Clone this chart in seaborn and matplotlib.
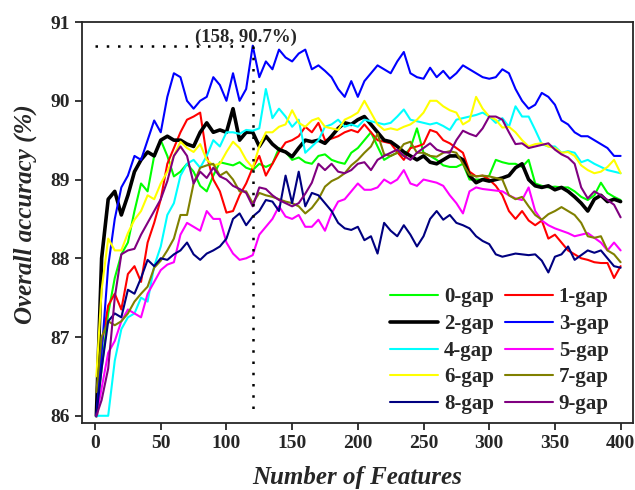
import pandas as pd
import matplotlib
matplotlib.use("Agg")
import matplotlib.pyplot as plt
import seaborn as sns

# feature counts (sampled every 5 features)
features = [1] + list(range(5, 401, 5))

gap0 = [86.0, 86.6, 87.3, 87.75, 88.05, 88.2, 88.6, 88.95, 88.85, 89.3,
        89.5, 89.3, 89.04, 89.1, 89.2, 89.1, 88.92, 88.85, 89.05, 89.22,
        89.2, 89.18, 89.22, 89.15, 89.12, 89.2, 89.16, 89.2, 89.4, 89.35,
        89.25, 89.28, 89.22, 89.2, 89.3, 89.32, 89.25, 89.22, 89.2, 89.34,
        89.4, 89.5, 89.6, 89.42, 89.25, 89.3, 89.34, 89.3, 89.4, 89.65,
        89.34, 89.3, 89.25, 89.18, 89.16, 89.16, 89.2, 89.0, 89.0, 89.0,
        89.05, 89.25, 89.22, 89.2, 89.2, 89.16, 89.25, 88.95, 88.92, 88.9,
        88.91, 88.9, 88.9, 88.85, 88.78, 88.74, 88.8, 88.96, 88.83, 88.78,
        88.74]
gap1 = [86.0, 86.9, 87.4, 87.55, 87.35, 87.8, 87.9, 87.7, 88.2, 88.45,
        88.75, 89.2, 89.4, 89.6, 89.76, 89.8, 89.85, 89.3, 89.0, 88.85,
        88.58, 88.6, 88.8, 88.95, 89.15, 89.3, 89.05, 89.2, 89.35, 89.47,
        89.5, 89.55, 89.67, 89.6, 89.72, 89.5, 89.52, 89.55, 89.6, 89.63,
        89.6, 89.7, 89.6, 89.5, 89.48, 89.46, 89.35, 89.25, 89.4, 89.42,
        89.45, 89.63, 89.6, 89.5, 89.46, 89.4, 89.34, 89.1, 89.04, 89.05,
        89.0, 88.92, 88.8, 88.6, 88.5, 88.6, 88.48, 88.42, 88.48, 88.25,
        88.3, 88.2, 88.1, 88.05, 88.0, 87.98, 87.95, 87.94, 87.94, 87.75,
        87.9]
gap2 = [86.0, 88.0, 88.75, 88.85, 88.55, 88.8, 89.1, 89.25, 89.35, 89.3,
        89.5, 89.55, 89.5, 89.5, 89.45, 89.42, 89.6, 89.72, 89.6, 89.63,
        89.6, 89.9, 89.5, 89.6, 89.6, 89.42, 89.55, 89.45, 89.38, 89.35,
        89.29, 89.4, 89.5, 89.48, 89.5, 89.46, 89.55, 89.65, 89.72, 89.7,
        89.76, 89.8, 89.7, 89.6, 89.5, 89.48, 89.42, 89.35, 89.3, 89.25,
        89.3, 89.22, 89.2, 89.25, 89.3, 89.3, 89.25, 89.05, 88.96, 89.0,
        88.98, 89.0, 89.02, 89.05, 89.15, 89.2, 89.0, 88.92, 88.9, 88.92,
        88.87, 88.9, 88.85, 88.78, 88.7, 88.6, 88.75, 88.8, 88.72, 88.75,
        88.72]
gap3 = [86.0, 86.8, 87.9, 88.5, 88.9, 89.05, 89.3, 89.25, 89.5, 89.75,
        89.6, 90.05, 90.35, 90.3, 90.0, 89.9, 90.0, 90.05, 90.3, 90.2,
        90.0, 90.35, 90.0, 90.15, 90.7, 90.3, 90.5, 90.4, 90.65, 90.55,
        90.5, 90.6, 90.65, 90.4, 90.45, 90.38, 90.3, 90.15, 90.05, 90.25,
        90.05, 90.25, 90.35, 90.45, 90.4, 90.35, 90.5, 90.62, 90.35, 90.3,
        90.28, 90.42, 90.3, 90.38, 90.28, 90.35, 90.45, 90.4, 90.35, 90.3,
        90.28, 90.3, 90.4, 90.35, 90.15, 90.0, 89.9, 89.95, 90.1, 90.05,
        89.95, 89.75, 89.7, 89.6, 89.55, 89.55, 89.5, 89.45, 89.4, 89.3,
        89.3]
gap4 = [86.0, 86.0, 86.0, 86.7, 87.1, 87.25, 87.3, 87.5, 87.45, 87.9,
        88.15, 88.55, 88.7, 89.05, 89.2, 89.25, 89.15, 89.3, 89.5, 89.42,
        89.6, 89.6, 89.58, 89.63, 89.62, 89.65, 90.15, 89.78, 89.9, 89.8,
        89.67, 89.76, 89.34, 89.42, 89.5, 89.67, 89.7, 89.76, 89.67, 89.7,
        89.67, 89.76, 89.74, 89.72, 89.7, 89.72, 89.8, 89.89, 89.76, 89.74,
        89.72, 89.7, 89.72, 89.68, 89.63, 89.76, 89.78, 89.8, 89.82, 89.85,
        89.8, 89.72, 89.78, 89.67, 89.93, 89.8, 89.8, 89.63, 89.45, 89.42,
        89.42, 89.34, 89.36, 89.34, 89.22, 89.25, 89.2, 89.16, 89.12, 89.1,
        89.08]
gap5 = [86.0, 86.35, 86.8, 86.95, 87.2, 87.35, 87.3, 87.25, 87.55, 87.7,
        87.85, 87.92, 87.95, 88.3, 88.45, 88.4, 88.35, 88.6, 88.5, 88.5,
        88.2, 88.06, 87.98, 88.0, 88.04, 88.3, 88.4, 88.5, 88.66, 88.53,
        88.5, 88.55, 88.4, 88.4, 88.49, 88.35, 88.57, 88.72, 88.75, 88.85,
        88.95, 88.87, 88.87, 88.9, 89.0, 88.95, 89.0, 89.12, 88.95, 88.92,
        89.0, 88.98, 88.96, 88.92, 88.8, 88.7, 88.57, 88.85, 88.9, 88.88,
        88.87, 88.86, 88.85, 88.8, 88.76, 88.74, 88.9, 88.6, 88.48, 88.42,
        88.38, 88.35, 88.32, 88.28, 88.3, 88.32, 88.26, 88.2, 88.1, 88.2,
        88.1]
gap6 = [86.5, 87.6, 88.25, 88.1, 88.1, 88.32, 88.49, 88.6, 88.8, 88.75,
        88.95, 89.1, 89.3, 89.48, 89.4, 89.35, 89.45, 89.25, 89.18, 89.2,
        89.35, 89.48, 89.4, 89.25, 89.15, 89.42, 89.6, 89.6, 89.67, 89.7,
        89.88, 89.72, 89.67, 89.75, 89.78, 89.67, 89.65, 89.63, 89.76, 89.8,
        89.85, 90.0, 89.85, 89.7, 89.63, 89.65, 89.63, 89.67, 89.7, 89.76,
        89.85, 90.0, 90.0, 89.93, 89.88, 89.85, 89.7, 89.75, 90.05, 89.9,
        89.8, 89.76, 89.66, 89.67, 89.6, 89.5, 89.42, 89.45, 89.46, 89.42,
        89.4, 89.34, 89.35, 89.3, 89.18, 89.12, 89.08, 89.1, 89.16, 89.25,
        89.08]
gap7 = [86.3, 87.0, 87.2, 87.15, 87.2, 87.3, 87.45, 87.55, 87.64, 87.88,
        87.97, 88.1, 88.25, 88.55, 88.55, 88.95, 89.15, 89.18, 89.2, 89.05,
        89.1, 89.0, 88.85, 88.85, 88.7, 88.83, 88.8, 88.78, 88.75, 88.72,
        88.7, 88.66, 88.57, 88.64, 88.75, 88.91, 88.98, 89.02, 89.08, 89.18,
        89.25, 89.34, 89.42, 89.58, 89.32, 89.3, 89.34, 89.45, 89.48, 89.34,
        89.34, 89.3, 89.29, 89.34, 89.36, 89.34, 89.2, 89.06, 89.04, 89.05,
        89.04, 89.02, 89.0, 88.8, 88.75, 88.78, 88.66, 88.55, 88.49, 88.56,
        88.6, 88.65, 88.6, 88.55, 88.45, 88.28, 88.26, 88.28, 88.1, 88.05,
        87.95]
gap8 = [86.0, 86.6, 87.2, 87.3, 87.25, 87.6, 87.55, 87.75, 87.98, 87.9,
        88.0, 87.98, 88.05, 88.1, 88.2, 88.05, 87.98, 88.06, 88.1, 88.15,
        88.25, 88.5, 88.57, 88.42, 88.53, 88.6, 88.74, 88.72, 88.6, 89.05,
        88.7, 89.1, 88.66, 88.83, 88.8, 88.7, 88.6, 88.45, 88.38, 88.36,
        88.4, 88.23, 88.28, 88.06, 88.45, 88.35, 88.28, 88.42, 88.3, 88.15,
        88.28, 88.5, 88.6, 88.49, 88.55, 88.45, 88.42, 88.38, 88.28, 88.22,
        88.18, 88.05, 88.02, 88.04, 88.06, 88.05, 88.04, 88.05, 87.97, 87.82,
        88.02, 88.05, 88.15, 87.98, 88.04, 88.1, 88.07, 88.1, 88.0, 87.9,
        87.88]
gap9 = [86.0, 86.2, 86.6, 87.5, 88.05, 88.1, 88.12, 88.3, 88.45, 88.6,
        88.75, 88.98, 89.3, 89.42, 89.3, 88.95, 89.1, 89.02, 89.15, 89.04,
        89.0, 88.92, 88.88, 88.83, 88.66, 88.9, 88.88, 88.8, 88.74, 88.7,
        88.66, 88.7, 88.82, 88.96, 89.2, 89.12, 89.2, 89.1, 89.08, 89.12,
        89.2, 89.22, 89.12, 89.25, 89.3, 89.34, 89.38, 89.3, 89.25, 89.34,
        89.4, 89.46, 89.38, 89.35, 89.34, 89.5, 89.62, 89.58, 89.55, 89.65,
        89.8, 89.8, 89.76, 89.6, 89.45, 89.46, 89.4, 89.42, 89.44, 89.46,
        89.38, 89.32, 89.28, 89.2, 88.9, 88.76, 88.85, 88.8, 88.74, 88.68,
        88.52]

names = ["0-gap", "1-gap", "2-gap", "3-gap", "4-gap",
         "5-gap", "6-gap", "7-gap", "8-gap", "9-gap"]
series = [gap0, gap1, gap2, gap3, gap4, gap5, gap6, gap7, gap8, gap9]
colors = ["#00FF00", "#FF0000", "#000000", "#0000FF", "#00FFFF",
          "#FF00FF", "#FFFF00", "#808000", "#000080", "#800080"]

best_x, best_y = 120, 90.7

sns.set_style("ticks")
plt.rcParams["font.family"] = ["Liberation Serif", "DejaVu Serif"]
plt.rcParams["font.weight"] = "bold"

fig, ax = plt.subplots(figsize=(6.35, 4.9), dpi=100)
fig.subplots_adjust(left=0.129, right=0.997, bottom=0.137, top=0.955)

for name, vals, c in zip(names, series, colors):
    lw = 2.6 if name == "2-gap" else 1.5
    sns.lineplot(x=features, y=vals, color=c, lw=lw, label=name, ax=ax)

# dotted guide lines to the best point
ax.plot([0, best_x], [best_y, best_y], color="black", lw=1.8, ls=(0, (1, 3.5)))
ax.plot([best_x, best_x], [best_y, 86.0], color="black", lw=1.8, ls=(0, (1, 3.5)))
ax.text(115, 90.81, "(158, 90.7%)", fontsize=13.5, fontweight="bold",
        ha="center", va="center")

ax.set_xlim(-10, 409.5)
ax.set_ylim(85.91, 91.0)
ax.set_xticks([0, 50, 100, 150, 200, 250, 300, 350, 400])
ax.set_yticks([86, 87, 88, 89, 90, 91])
ax.tick_params(axis="both", labelsize=14, width=1.3, length=5, direction="out")
for lab in ax.get_xticklabels() + ax.get_yticklabels():
    lab.set_fontweight("bold")
for sp in ax.spines.values():
    sp.set_linewidth(1.3)
    sp.set_visible(True)

ax.set_xlabel("Number of Features", fontsize=18, fontweight="bold",
              fontstyle="italic", labelpad=10)
ax.set_ylabel("Overall accuracy (%)", fontsize=18, fontweight="bold",
              fontstyle="italic")
ax.yaxis.set_label_coords(-0.082, 0.52)

handles, labels = ax.get_legend_handles_labels()
order = [0, 2, 4, 6, 8, 1, 3, 5, 7, 9]
leg = ax.legend([handles[i] for i in order], [labels[i] for i in order],
                ncol=2, frameon=False, fontsize=15, loc="lower right",
                bbox_to_anchor=(0.99, -0.025), handlelength=2.3,
                handletextpad=0.3, columnspacing=0.5, labelspacing=0.32)
for t in leg.get_texts():
    t.set_fontweight("bold")

fig.savefig("out.png", dpi=100)
